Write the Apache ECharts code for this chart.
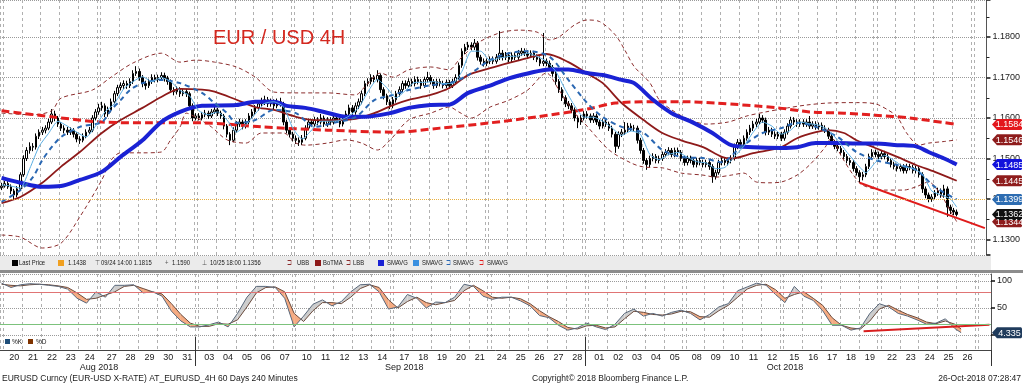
<!DOCTYPE html>
<html><head><meta charset="utf-8">
<script src="https://cdn.jsdelivr.net/npm/echarts@6/dist/echarts.min.js"></script>
<style>html,body{margin:0;padding:0;background:#fff}#c{width:1023px;height:384px}</style>
</head><body><div id="c"></div>
<script>
// ---------- data ----------
const dayTicks = ['20','21','22','23','24','27','28','29','30','31',
 '03','04','05','06','07','10','11','12','13','14','17','18','19','20','21','24','25','26','27','28',
 '01','02','03','04','05','08','09','10','11','12','15','16','17','18','19','22','23','24','25','26'];
const hours = ['02:00','06:00','10:00','14:00','18:00','22:00'];
const monthLabels = ['Aug 2018','Sep 2018','Oct 2018'];
const monthLabelBars = [31,128,249];
const monthBoundaryBars = [62,186];
const firstOpen = 1.1428;
const closes = [
1.1432,1.1438,1.1430,1.1420,1.1410,1.1425,1.1460,1.1500,1.1520,1.1530,
1.1528,1.1555,1.1565,1.1570,1.1575,1.1590,1.1610,1.1600,1.1585,1.1575,
1.1570,1.1565,1.1570,1.1560,1.1548,1.1545,1.1555,1.1565,1.1570,1.1600,
1.1615,1.1625,1.1630,1.1610,1.1620,1.1640,1.1660,1.1675,1.1680,1.1685,
1.1680,1.1690,1.1710,1.1715,1.1700,1.1685,1.1680,1.1690,1.1700,1.1695,
1.1700,1.1705,1.1698,1.1690,1.1670,1.1665,1.1670,1.1660,1.1665,1.1660,
1.1630,1.1600,1.1605,1.1600,1.1608,1.1612,1.1605,1.1615,1.1620,1.1612,
1.1605,1.1580,1.1560,1.1545,1.1570,1.1585,1.1590,1.1580,1.1590,1.1605,
1.1615,1.1625,1.1635,1.1640,1.1645,1.1635,1.1640,1.1630,1.1640,1.1635,
1.1590,1.1570,1.1560,1.1550,1.1545,1.1540,1.1550,1.1575,1.1590,1.1585,
1.1595,1.1590,1.1600,1.1585,1.1595,1.1590,1.1600,1.1595,1.1585,1.1600,
1.1610,1.1625,1.1615,1.1630,1.1640,1.1660,1.1685,1.1690,1.1700,1.1695,
1.1705,1.1670,1.1655,1.1640,1.1630,1.1645,1.1660,1.1670,1.1685,1.1680,
1.1690,1.1685,1.1695,1.1690,1.1680,1.1695,1.1700,1.1690,1.1680,1.1690,
1.1685,1.1680,1.1688,1.1680,1.1690,1.1700,1.1730,1.1765,1.1775,1.1780,
1.1775,1.1785,1.1750,1.1740,1.1735,1.1740,1.1745,1.1740,1.1750,1.1760,
1.1750,1.1755,1.1745,1.1755,1.1750,1.1760,1.1765,1.1760,1.1755,1.1760,
1.1750,1.1745,1.1735,1.1740,1.1735,1.1725,1.1710,1.1690,1.1670,1.1650,
1.1635,1.1630,1.1620,1.1600,1.1590,1.1600,1.1610,1.1605,1.1595,1.1605,
1.1590,1.1580,1.1590,1.1585,1.1575,1.1560,1.1530,1.1560,1.1565,1.1570,
1.1580,1.1575,1.1575,1.1545,1.1520,1.1495,1.1485,1.1500,1.1505,1.1495,
1.1500,1.1510,1.1515,1.1520,1.1510,1.1520,1.1515,1.1500,1.1490,1.1500,
1.1495,1.1485,1.1495,1.1490,1.1485,1.1490,1.1480,1.1455,1.1465,1.1490,
1.1495,1.1490,1.1495,1.1500,1.1530,1.1540,1.1535,1.1550,1.1565,1.1575,
1.1585,1.1590,1.1600,1.1595,1.1565,1.1570,1.1560,1.1555,1.1560,1.1550,
1.1565,1.1580,1.1595,1.1590,1.1585,1.1590,1.1585,1.1590,1.1580,1.1585,
1.1578,1.1582,1.1575,1.1570,1.1555,1.1540,1.1530,1.1525,1.1515,1.1505,
1.1495,1.1490,1.1475,1.1465,1.1455,1.1460,1.1480,1.1505,1.1515,1.1510,
1.1505,1.1512,1.1505,1.1495,1.1485,1.1480,1.1475,1.1480,1.1470,1.1480,
1.1478,1.1470,1.1475,1.1460,1.1425,1.1410,1.1400,1.1405,1.1415,1.1420,
1.1410,1.1425,1.1380,1.1372,1.1368,1.1362];
const highs = [
1.1440,1.1445,1.1444,1.1436,1.1425,1.1432,1.1466,1.1508,1.1528,1.1540,
1.1538,1.1562,1.1572,1.1578,1.1582,1.1598,1.1622,1.1618,1.1605,1.1590,
1.1582,1.1578,1.1577,1.1575,1.1565,1.1555,1.1562,1.1572,1.1578,1.1607,
1.1622,1.1635,1.1640,1.1636,1.1628,1.1648,1.1667,1.1682,1.1688,1.1693,
1.1692,1.1698,1.1718,1.1728,1.1722,1.1706,1.1692,1.1697,1.1708,1.1707,
1.1707,1.1713,1.1712,1.1704,1.1695,1.1676,1.1678,1.1676,1.1672,1.1672,
1.1665,1.1636,1.1612,1.1612,1.1615,1.1620,1.1618,1.1622,1.1628,1.1625,
1.1618,1.1610,1.1585,1.1565,1.1577,1.1592,1.1598,1.1596,1.1597,1.1612,
1.1622,1.1632,1.1643,1.1650,1.1655,1.1652,1.1648,1.1646,1.1648,1.1650,
1.1640,1.1596,1.1577,1.1566,1.1557,1.1552,1.1558,1.1582,1.1598,1.1597,
1.1603,1.1602,1.1610,1.1606,1.1602,1.1602,1.1608,1.1607,1.1600,1.1607,
1.1618,1.1633,1.1632,1.1638,1.1648,1.1668,1.1692,1.1698,1.1708,1.1706,
1.1718,1.1710,1.1676,1.1660,1.1646,1.1652,1.1667,1.1678,1.1692,1.1693,
1.1698,1.1697,1.1703,1.1702,1.1696,1.1702,1.1714,1.1706,1.1696,1.1697,
1.1697,1.1692,1.1695,1.1694,1.1697,1.1708,1.1737,1.1772,1.1783,1.1788,
1.1787,1.1795,1.1790,1.1756,1.1747,1.1747,1.1752,1.1752,1.1758,1.1815,
1.1768,1.1763,1.1762,1.1762,1.1762,1.1768,1.1773,1.1772,1.1767,1.1767,
1.1766,1.1757,1.1752,1.1810,1.1747,1.1742,1.1731,1.1716,1.1696,1.1676,
1.1656,1.1642,1.1637,1.1626,1.1606,1.1607,1.1617,1.1617,1.1611,1.1612,
1.1611,1.1596,1.1597,1.1597,1.1591,1.1581,1.1566,1.1567,1.1573,1.1590,
1.1588,1.1587,1.1583,1.1581,1.1551,1.1526,1.1501,1.1507,1.1513,1.1511,
1.1507,1.1517,1.1523,1.1528,1.1526,1.1527,1.1527,1.1521,1.1506,1.1507,
1.1507,1.1501,1.1502,1.1502,1.1497,1.1497,1.1496,1.1486,1.1472,1.1497,
1.1503,1.1502,1.1502,1.1508,1.1537,1.1548,1.1547,1.1557,1.1572,1.1583,
1.1593,1.1598,1.1610,1.1607,1.1601,1.1578,1.1576,1.1567,1.1567,1.1566,
1.1572,1.1587,1.1603,1.1602,1.1597,1.1597,1.1597,1.1597,1.1605,1.1592,
1.1592,1.1589,1.1589,1.1582,1.1576,1.1561,1.1546,1.1537,1.1531,1.1521,
1.1511,1.1502,1.1496,1.1481,1.1471,1.1467,1.1487,1.1512,1.1523,1.1522,
1.1517,1.1519,1.1519,1.1511,1.1501,1.1492,1.1487,1.1487,1.1486,1.1487,
1.1487,1.1484,1.1482,1.1481,1.1466,1.1431,1.1416,1.1412,1.1422,1.1428,
1.1426,1.1435,1.1431,1.1386,1.1378,1.1374];
const lows = [
1.1422,1.1428,1.1425,1.1412,1.1400,1.1404,1.1420,1.1455,1.1494,1.1512,
1.1518,1.1522,1.1548,1.1558,1.1562,1.1570,1.1585,1.1592,1.1578,1.1568,
1.1562,1.1558,1.1558,1.1552,1.1540,1.1536,1.1540,1.1550,1.1560,1.1565,
1.1594,1.1608,1.1618,1.1602,1.1603,1.1614,1.1634,1.1654,1.1668,1.1672,
1.1672,1.1674,1.1684,1.1704,1.1692,1.1676,1.1670,1.1674,1.1684,1.1688,
1.1688,1.1694,1.1690,1.1682,1.1662,1.1656,1.1658,1.1652,1.1654,1.1652,
1.1622,1.1592,1.1594,1.1594,1.1594,1.1602,1.1598,1.1600,1.1610,1.1605,
1.1598,1.1572,1.1552,1.1533,1.1540,1.1564,1.1578,1.1572,1.1574,1.1584,
1.1598,1.1608,1.1618,1.1628,1.1632,1.1627,1.1628,1.1622,1.1624,1.1628,
1.1582,1.1562,1.1552,1.1542,1.1536,1.1531,1.1533,1.1545,1.1570,1.1578,
1.1578,1.1582,1.1584,1.1578,1.1578,1.1582,1.1584,1.1588,1.1577,1.1579,
1.1594,1.1604,1.1608,1.1608,1.1622,1.1634,1.1654,1.1678,1.1683,1.1688,
1.1688,1.1662,1.1646,1.1632,1.1622,1.1624,1.1638,1.1653,1.1664,1.1672,
1.1674,1.1678,1.1678,1.1683,1.1672,1.1674,1.1688,1.1683,1.1672,1.1674,
1.1678,1.1673,1.1674,1.1673,1.1674,1.1684,1.1695,1.1724,1.1758,1.1768,
1.1767,1.1768,1.1742,1.1732,1.1727,1.1728,1.1733,1.1733,1.1734,1.1743,
1.1742,1.1743,1.1738,1.1738,1.1743,1.1743,1.1753,1.1753,1.1748,1.1748,
1.1743,1.1738,1.1728,1.1728,1.1728,1.1718,1.1702,1.1682,1.1662,1.1642,
1.1627,1.1622,1.1612,1.1592,1.1575,1.1583,1.1594,1.1598,1.1588,1.1588,
1.1583,1.1572,1.1574,1.1578,1.1568,1.1552,1.1514,1.1524,1.1553,1.1558,
1.1563,1.1568,1.1567,1.1537,1.1512,1.1487,1.1472,1.1478,1.1493,1.1488,
1.1488,1.1494,1.1503,1.1508,1.1503,1.1503,1.1508,1.1493,1.1482,1.1483,
1.1488,1.1478,1.1478,1.1483,1.1478,1.1478,1.1472,1.1440,1.1448,1.1460,
1.1483,1.1483,1.1483,1.1488,1.1495,1.1523,1.1528,1.1528,1.1544,1.1558,
1.1568,1.1578,1.1584,1.1588,1.1557,1.1558,1.1553,1.1548,1.1548,1.1543,
1.1544,1.1559,1.1574,1.1583,1.1578,1.1578,1.1578,1.1578,1.1573,1.1573,
1.1571,1.1571,1.1568,1.1563,1.1548,1.1533,1.1523,1.1518,1.1508,1.1498,
1.1488,1.1483,1.1468,1.1458,1.1440,1.1446,1.1454,1.1474,1.1498,1.1503,
1.1498,1.1498,1.1498,1.1488,1.1478,1.1473,1.1468,1.1468,1.1463,1.1463,
1.1471,1.1463,1.1463,1.1453,1.1415,1.1402,1.1392,1.1393,1.1398,1.1408,
1.1403,1.1403,1.1356,1.1363,1.1360,1.1357];
const lastPriceLine = 1.1438;
// indicator lines: [bar index, value]
const smaBlue = [[0,1.1452],[6,1.1440],[13,1.1430],[19,1.1432],[25,1.1447],[32,1.1467],[38,1.1504],[45,1.1545],[51,1.1590],[57,1.1615],[64,1.1630],[75,1.1632],[81,1.1640],[87,1.1640],[91,1.1630],[97,1.1625],[103,1.1615],[110,1.1603],[116,1.1603],[124,1.1612],[130,1.1625],[137,1.1632],[143,1.1633],[149,1.1662],[156,1.1680],[162,1.1698],[168,1.1710],[175,1.1720],[181,1.1720],[187,1.1711],[192,1.1706],[198,1.1694],[202,1.1686],[208,1.1645],[214,1.1612],[221,1.1588],[227,1.1563],[233,1.1533],[240,1.1528],[249,1.1526],[254,1.1528],[260,1.1538],[267,1.1538],[273,1.1537],[279,1.1537],[286,1.1533],[292,1.1530],[296,1.1516],[301,1.1500],[305,1.1485]];
const smaRed = [[0,1.1618],[16,1.1603],[32,1.1590],[48,1.1588],[64,1.1588],[83,1.1578],[104,1.1570],[125,1.1565],[140,1.1575],[156,1.1588],[171,1.1603],[187,1.1622],[196,1.1637],[207,1.1640],[218,1.1640],[228,1.1637],[248,1.1625],[258,1.1615],[269,1.1612],[279,1.1607],[290,1.1600],[305,1.1584]];
const botma = [[0,1.1390],[6,1.1405],[13,1.1440],[19,1.1480],[25,1.1516],[32,1.1563],[38,1.1595],[45,1.1625],[51,1.1652],[57,1.1672],[64,1.1670],[68,1.1665],[75,1.1645],[81,1.1627],[87,1.1620],[94,1.1603],[100,1.1595],[106,1.1595],[113,1.1598],[119,1.1612],[125,1.1632],[130,1.1645],[137,1.1657],[143,1.1674],[149,1.1706],[156,1.1723],[162,1.1736],[168,1.1748],[174,1.1758],[181,1.1738],[187,1.1710],[192,1.1686],[198,1.1637],[205,1.1595],[211,1.1563],[217,1.1545],[224,1.1528],[230,1.1504],[233,1.1500],[240,1.1513],[249,1.1528],[254,1.1550],[260,1.1565],[264,1.1570],[269,1.1563],[273,1.1545],[279,1.1526],[286,1.1504],[292,1.1484],[298,1.1467],[305,1.1445]];
const ubb = [[0,1.1612],[10,1.1608],[16,1.1618],[19,1.1649],[29,1.1669],[35,1.1701],[42,1.1736],[51,1.1760],[57,1.1738],[62,1.1743],[68,1.1738],[75,1.1726],[81,1.1701],[87,1.1664],[94,1.1662],[104,1.1662],[113,1.1657],[116,1.1677],[121,1.1711],[125,1.1701],[130,1.1719],[137,1.1726],[143,1.1719],[146,1.1743],[152,1.1785],[159,1.1810],[165,1.1817],[171,1.1812],[175,1.1793],[178,1.1800],[183,1.1830],[187,1.1842],[191,1.1838],[196,1.1805],[199,1.1768],[202,1.1727],[207,1.1687],[210,1.1645],[214,1.1620],[219,1.1598],[225,1.1585],[232,1.1590],[238,1.1605],[244,1.1615],[251,1.1625],[257,1.1632],[264,1.1637],[273,1.1638],[279,1.1635],[283,1.1620],[286,1.1603],[289,1.1563],[293,1.1533],[296,1.1538],[301,1.1542],[305,1.1546]];
const lbb = [[0,1.1311],[6,1.1306],[13,1.1279],[19,1.1291],[25,1.1356],[32,1.1447],[35,1.1496],[38,1.1514],[45,1.1514],[51,1.1516],[54,1.1546],[57,1.1578],[59,1.1612],[62,1.1602],[67,1.1578],[72,1.1546],[78,1.1538],[83,1.1563],[90,1.1563],[94,1.1538],[97,1.1533],[104,1.1538],[110,1.1546],[115,1.1538],[120,1.1521],[124,1.1545],[130,1.1595],[137,1.1612],[143,1.1627],[146,1.1615],[150,1.1600],[156,1.1627],[162,1.1644],[168,1.1669],[174,1.1711],[178,1.1669],[183,1.1612],[186,1.1588],[194,1.1521],[201,1.1489],[205,1.1479],[211,1.1477],[217,1.1464],[224,1.1459],[228,1.1454],[233,1.1459],[237,1.1464],[241,1.1442],[245,1.1440],[249,1.1442],[254,1.1459],[258,1.1484],[263,1.1528],[265,1.1551],[268,1.1508],[272,1.1459],[275,1.1434],[282,1.1422],[288,1.1422],[292,1.1430],[296,1.1442],[300,1.1410],[303,1.1370],[305,1.1344]];
const smaDash = [[0,1.1393],[6,1.1422],[10,1.1454],[13,1.1496],[16,1.1528],[19,1.1553],[25,1.1578],[32,1.1590],[35,1.1620],[38,1.1644],[41,1.1669],[45,1.1686],[51,1.1694],[57,1.1686],[64,1.1662],[68,1.1637],[72,1.1612],[75,1.1588],[81,1.1595],[87,1.1620],[94,1.1612],[100,1.1578],[106,1.1588],[113,1.1602],[119,1.1644],[124,1.1655],[130,1.1669],[137,1.1681],[143,1.1686],[149,1.1706],[156,1.1743],[162,1.1760],[168,1.1765],[175,1.1751],[181,1.1694],[187,1.1637],[192,1.1602],[198,1.1578],[205,1.1563],[211,1.1521],[217,1.1504],[224,1.1501],[230,1.1491],[236,1.1528],[243,1.1563],[249,1.1575],[254,1.1588],[260,1.1578],[267,1.1553],[273,1.1516],[279,1.1496],[286,1.1484],[292,1.1472],[298,1.1430],[305,1.1399]];
const smaThin = [[0,1.1435],[3,1.1432],[6,1.1427],[9,1.1475],[12,1.1530],[15,1.1562],[18,1.1592],[21,1.1580],[24,1.1565],[27,1.1553],[30,1.1580],[33,1.1615],[36,1.1635],[39,1.1672],[42,1.1690],[45,1.1702],[48,1.1690],[51,1.1700],[54,1.1690],[57,1.1668],[60,1.1655],[63,1.1618],[66,1.1608],[69,1.1615],[72,1.1595],[75,1.1565],[78,1.1583],[81,1.1610],[84,1.1636],[87,1.1640],[90,1.1628],[93,1.1575],[96,1.1548],[99,1.1570],[102,1.1592],[105,1.1592],[108,1.1594],[111,1.1605],[114,1.1625],[117,1.1665],[120,1.1695],[123,1.1675],[126,1.1650],[129,1.1668],[132,1.1688],[135,1.1688],[138,1.1690],[141,1.1685],[144,1.1685],[147,1.1715],[150,1.1765],[153,1.1765],[156,1.1742],[159,1.1748],[162,1.1752],[165,1.1753],[168,1.1760],[171,1.1752],[174,1.1740],[177,1.1715],[180,1.1670],[183,1.1630],[186,1.1602],[189,1.1602],[192,1.1592],[195,1.1575],[198,1.1557],[201,1.1568],[204,1.1560],[207,1.1510],[210,1.1497],[213,1.1510],[216,1.1515],[219,1.1503],[222,1.1492],[225,1.1489],[228,1.1475],[231,1.1478],[234,1.1505],[237,1.1530],[240,1.1565],[243,1.1590],[246,1.1580],[249,1.1560],[252,1.1570],[255,1.1590],[258,1.1586],[261,1.1582],[264,1.1570],[267,1.1545],[270,1.1515],[273,1.1488],[276,1.1465],[279,1.1490],[282,1.1508],[285,1.1495],[288,1.1480],[291,1.1475],[294,1.1462],[297,1.1420],[300,1.1410],[303,1.1400],[305,1.1380]];
const trendMain = [[274,1.1440],[314,1.1328]];
const stochK = [[0,96],[3,88],[6,93],[9,95],[12,94],[15,92],[18,90],[21,85],[24,68],[27,59],[30,80],[33,70],[36,92],[39,92],[42,93],[45,78],[48,80],[51,72],[54,44],[57,26],[60,15],[63,15],[66,19],[69,24],[72,15],[75,40],[78,70],[81,90],[84,90],[87,88],[90,68],[93,15],[96,35],[99,57],[102,65],[105,54],[108,62],[111,80],[114,93],[117,94],[120,80],[123,48],[126,52],[129,75],[132,68],[135,50],[138,61],[141,60],[144,70],[147,94],[150,90],[153,72],[156,66],[159,70],[162,70],[165,63],[168,54],[171,36],[174,32],[177,18],[180,9],[183,13],[186,22],[189,15],[192,10],[195,20],[198,40],[201,48],[204,35],[207,40],[210,35],[213,42],[216,46],[219,40],[222,28],[225,38],[228,52],[231,58],[234,82],[237,89],[240,96],[243,92],[246,75],[249,60],[252,90],[255,72],[258,64],[261,45],[264,18],[267,18],[270,9],[273,13],[276,40],[279,58],[282,52],[285,40],[288,35],[291,28],[294,20],[297,22],[300,30],[303,12],[305,4.335]];
const stochD = [[0,94],[3,92],[6,91],[9,93],[12,94],[15,93],[18,91],[21,88],[24,78],[27,66],[30,68],[33,74],[36,80],[39,90],[42,92],[45,86],[48,80],[51,76],[54,58],[57,38],[60,22],[63,16],[66,16],[69,21],[72,20],[75,28],[78,52],[81,78],[84,88],[87,89],[90,80],[93,40],[96,25],[99,45],[102,60],[105,60],[108,58],[111,70],[114,86],[117,93],[120,88],[123,65],[126,50],[129,62],[132,70],[135,60],[138,56],[141,60],[144,64],[147,82],[150,92],[153,82],[156,70],[159,68],[162,70],[165,67],[168,58],[171,45],[174,34],[177,25],[180,14],[183,11],[186,17],[189,18],[192,13],[195,15],[198,30],[201,44],[204,42],[207,38],[210,37],[213,39],[216,44],[219,43],[222,34],[225,33],[228,45],[231,55],[234,70],[237,85],[240,92],[243,94],[246,84],[249,68],[252,75],[255,80],[258,68],[261,55],[264,32],[267,18],[270,13],[273,11],[276,26],[279,48],[282,55],[285,46],[288,38],[291,32],[294,24],[297,21],[300,26],[303,20],[305,11]];
const trendOsc = [[274,7],[314,19]];
const oscLevels = [80, 20];
const axisTags = [1.1584, 1.1546, 1.1485, 1.1445, 1.1399, 1.1344, 1.1362];
const oscTag = 4.335;

// ---------- styles ----------
const tagColors = ['#e3171d','#8e1c1c','#1212dc','#8e1c1c','#2e6db2','#8e1c1c','#111111'];
const FONT = "'Liberation Sans', Arial, sans-serif";
const NBARS = 315;

const cats = [];
for (let i = 0; i < NBARS; i++) {
  const k = Math.floor(i / 31), r = i % 31;
  if (r === 0) cats.push('Sun|22:00|' + i);
  else {
    const d = Math.floor((r - 1) / 6), h = (r - 1) % 6;
    cats.push((dayTicks[k * 5 + d] || '') + '|' + hours[h] + '|' + i);
  }
}
const opens = [firstOpen].concat(closes.slice(0, -1));
const candleData = closes.map((c, i) => [opens[i], c, lows[i], highs[i]]);
const isDayStart = i => { const r = i % 31; return r === 0 || (r - 1) % 6 === 0; };
const isDayLabelBar = i => { const r = i % 31; const k = Math.floor(i / 31);
  return r >= 4 && r <= 28 && (r - 4) % 6 === 0 && (k * 5 + (r - 4) / 6) < dayTicks.length; };

const fillRows = [];
for (let j = 0; j < stochK.length - 1; j++) {
  fillRows.push([stochK[j][0], stochK[j][1], stochD[j][1], stochK[j+1][0], stochK[j+1][1], stochD[j+1][1]]);
}

const vSplit = { show: true, interval: (i) => isDayStart(i), lineStyle: { color: '#b0b0b0', type: [3, 3], width: 1 } };
const lineS = (name, data, color, width, type, extra) => Object.assign({
  type: 'line', name, data, symbol: 'none', smooth: 0.3, silent: true,
  lineStyle: { color, width, type: type || 'solid' }, xAxisIndex: 0, yAxisIndex: 0, z: 3
}, extra || {});

const chart = echarts.init(document.getElementById('c'));
chart.setOption({
  animation: false,
  textStyle: { fontFamily: FONT },
  grid: [
    { left: -2, top: 0, width: 993, height: 255 },
    { left: -2, top: 274, width: 993, height: 76 }
  ],
  xAxis: [
    { type: 'category', gridIndex: 0, data: cats, boundaryGap: true,
      axisLine: { show: false }, axisTick: { show: false }, axisLabel: { show: false }, splitLine: vSplit },
    { type: 'category', gridIndex: 1, data: cats, boundaryGap: true,
      axisLine: { show: true, onZero: false, lineStyle: { color: '#444', width: 1 } },
      axisTick: { show: true, interval: (i) => monthBoundaryBars.includes(i), length: 16, lineStyle: { color: '#333', width: 1 } },
      axisLabel: { interval: (i) => isDayLabelBar(i), formatter: v => v.split('|')[0], margin: 3, fontSize: 9, color: '#1a1a1a', fontFamily: FONT },
      splitLine: vSplit }
  ],
  yAxis: [
    { type: 'value', gridIndex: 0, position: 'right', min: 1.126173, max: 1.189136, splitNumber: 5,
      axisLine: { show: true, lineStyle: { color: '#555', width: 1 } },
      axisTick: { show: true, length: 4, lineStyle: { color: '#111', width: 1.5 } },
      minorTick: { show: true, splitNumber: 2, length: 3, lineStyle: { color: '#222' } },
      axisLabel: { margin: 6, fontSize: 9, color: '#1a1a1a', fontFamily: FONT, showMinLabel: false, showMaxLabel: false, formatter: v => v.toFixed(4) },
      splitLine: { show: true, lineStyle: { color: '#9a9a9a', type: 'dotted', width: 1 } } },
    { type: 'value', gridIndex: 1, position: 'right', min: -27.78, max: 112.96, splitNumber: 3,
      axisLine: { show: true, lineStyle: { color: '#555', width: 1 } },
      axisTick: { show: true, length: 4, lineStyle: { color: '#111', width: 1.5 } },
      axisLabel: { margin: 6, fontSize: 9, color: '#1a1a1a', fontFamily: FONT, showMinLabel: false, showMaxLabel: false,
        formatter: v => (Math.abs(v - 100) < 1e-6 ? '100' : Math.abs(v - 50) < 1e-6 ? '50' : '') },
      splitLine: { show: true, lineStyle: { color: '#9a9a9a', type: 'dotted', width: 1 } } }
  ],
  series: [
    { type: 'candlestick', name: 'Last Price', data: candleData, xAxisIndex: 0, yAxisIndex: 0, barWidth: 2, silent: true, z: 2,
      itemStyle: { color: '#ffffff', color0: '#000000', borderColor: '#000000', borderColor0: '#000000', borderWidth: 1 },
      markLine: { silent: true, symbol: 'none', label: { show: false },
        lineStyle: { color: '#e8b040', type: 'dotted', width: 1 }, data: [{ yAxis: lastPriceLine }] } },
    lineS('LBB', lbb, '#8b2d2d', 1, [4, 3]),
    lineS('UBB', ubb, '#8b2d2d', 1, [4, 3]),
    lineS('BoTMA', botma, '#8e1a1a', 1.8),
    lineS('SMAVG200', smaRed, '#e21f1f', 3, [8, 4]),
    lineS('SMAVG100', smaBlue, '#1a22d4', 4),
    lineS('SMAVG20', smaDash, '#2a67b2', 2, [5, 4]),
    lineS('SMAVG5', smaThin, '#5aaee2', 1, 'solid', { smooth: 0.2 }),
    lineS('trend', trendMain, '#e01b1b', 2, 'solid', { smooth: false, z: 4 }),
    { type: 'custom', name: 'fill', xAxisIndex: 1, yAxisIndex: 1, data: fillRows, silent: true, z: 1,
      encode: { x: [0, 3], y: [1, 2, 4, 5] },
      renderItem: (params, api) => {
        const i0 = api.value(0), k0 = api.value(1), d0 = api.value(2), i1 = api.value(3), k1 = api.value(4), d1 = api.value(5);
        const pK0 = api.coord([i0, k0]), pD0 = api.coord([i0, d0]), pK1 = api.coord([i1, k1]), pD1 = api.coord([i1, d1]);
        const s0 = k0 - d0, s1 = k1 - d1;
        const col = s => (s >= 0 ? '#cdcdcd' : '#f5ab82');
        const ch = [];
        if (s0 * s1 >= 0) {
          ch.push({ type: 'polygon', shape: { points: [pK0, pK1, pD1, pD0] }, style: { fill: col(s0 + s1) } });
        } else {
          const t = s0 / (s0 - s1);
          const p = [pK0[0] + t * (pK1[0] - pK0[0]), pK0[1] + t * (pK1[1] - pK0[1])];
          ch.push({ type: 'polygon', shape: { points: [pK0, p, pD0] }, style: { fill: col(s0) } });
          ch.push({ type: 'polygon', shape: { points: [p, pK1, pD1] }, style: { fill: col(s1) } });
        }
        return { type: 'group', children: ch };
      } },
    { type: 'line', name: '%D', data: stochD, xAxisIndex: 1, yAxisIndex: 1, symbol: 'none', silent: true, z: 3,
      lineStyle: { color: '#6a4a3c', width: 1 } },
    { type: 'line', name: '%K', data: stochK, xAxisIndex: 1, yAxisIndex: 1, symbol: 'none', silent: true, z: 3,
      lineStyle: { color: '#58677a', width: 1 },
      markLine: { silent: true, symbol: 'none', label: { show: false },
        data: [{ yAxis: oscLevels[0], lineStyle: { color: '#e07474', type: 'solid', width: 1 } },
               { yAxis: oscLevels[1], lineStyle: { color: '#7cc27c', type: 'solid', width: 1 } }] } },
    { type: 'line', name: 'trendOsc', data: trendOsc, xAxisIndex: 1, yAxisIndex: 1, symbol: 'none', silent: true, z: 4,
      lineStyle: { color: '#d81e1e', width: 2 } }
  ]
});

// ---------- graphics ----------
const G = [];
let gid = 0;
const txt = (x, y, text, size, fill, align, sx) => G.push({ id: 'g' + (gid++), type: 'text', x, y, z: 60, silent: true, scaleX: sx || 1,
  style: { text, fill: fill || '#1a1a1a', font: size + 'px ' + FONT, align: align || 'left', verticalAlign: 'middle' } });
const rect = (x, y, w, h, fill, z) => G.push({ id: 'g' + (gid++), type: 'rect', z: z || 55, silent: true, shape: { x, y, width: w, height: h }, style: { fill } });
const lg = (x, text, fill) => txt(x, 263, text, 7, fill, 'left', 0.84);

txt(213, 38, 'EUR / USD 4H', 20, '#d4281f');
rect(0, 256, 991, 14, '#ebebeb');
rect(0, 270, 1023, 3, '#8c8c8c');
const LY = 263;
rect(12, LY - 3, 6, 6, '#000000', 61); lg(19, 'Last Price');
rect(58, LY - 3, 6, 6, '#f0a020', 61); lg(68, '1.1438');
lg(95, '⊤', '#555'); lg(101, '09/24 14:00 1.1815');
lg(165, '+', '#555'); lg(172, '1.1590');
lg(202, '⊥', '#555'); lg(210, '10/25 18:00 1.1356');
lg(287, '⊐', '#8b2d2d'); lg(297, 'UBB');
rect(315, LY - 3, 6, 6, '#8e1a1a', 61); lg(323, 'BoTMA');
lg(346, '⊐', '#8b2d2d'); lg(353, 'LBB');
rect(378, LY - 3, 6, 6, '#1a22d4', 61); lg(387, 'SMAVG');
rect(413, LY - 3, 6, 6, '#3a90e0', 61); lg(422, 'SMAVG');
lg(446, '⊐', '#2a67b2'); lg(453, 'SMAVG');
lg(479, '⊐', '#e21f1f'); lg(487, 'SMAVG');
rect(5, 339, 5, 5, '#1f4e79', 61); txt(12, 342, '%K', 6.5);
rect(28, 339, 5, 5, '#7f3300', 61); txt(36, 342, '%D', 6.5);
txt(2, 379, 'EURUSD Curncy (EUR-USD X-RATE) AT_EURUSD_4H 60 Days 240 Minutes', 8.5);
txt(532, 379, 'Copyright\u00a9 2018 Bloomberg Finance L.P.', 8.5);
txt(1021, 379, '26-Oct-2018 07:28:47', 8.5, '#1a1a1a', 'right');

// month row
const bw = 993 / NBARS;
monthLabels.forEach((m, k) => {
  const x = chart.convertToPixel({ xAxisIndex: 1 }, monthLabelBars[k]);
  G.push({ id: 'mon' + k, type: 'text', z: 62, silent: true,
    style: { x: x, y: 368, text: m, fill: '#1a1a1a', font: '9px ' + FONT, align: 'center', verticalAlign: 'middle' } });
});
monthBoundaryBars.forEach((b, k) => {
  const x = Math.round(chart.convertToPixel({ xAxisIndex: 1 }, b) - bw / 2) + 0.5;
  G.push({ id: 'mb' + k, type: 'line', z: 60, silent: true, shape: { x1: x, y1: 337, x2: x, y2: 350 }, style: { stroke: '#333', lineWidth: 1 } });
});

const tag = (y, color, text, k) => {
  G.push({ id: 't' + k, type: 'polygon', z: 70, silent: true,
    shape: { points: [[992, y], [997, y - 5.5], [1021, y - 5.5], [1022, y - 4.5], [1022, y + 4.5], [1021, y + 5.5], [997, y + 5.5]] },
    style: { fill: color } });
  G.push({ id: 'tt' + k, type: 'text', z: 71, silent: true,
    style: { x: 1009.5, y: y + 0.5, text, fill: '#ffffff', font: '9px ' + FONT, align: 'center', verticalAlign: 'middle' } });
};
axisTags.forEach((v, k) => tag(chart.convertToPixel({ yAxisIndex: 0 }, v), tagColors[k], v.toFixed(4), k));
tag(chart.convertToPixel({ yAxisIndex: 1 }, oscTag), '#1f3b5c', oscTag.toFixed(3), 'o');
chart.setOption({ graphic: G });
</script></body></html>
